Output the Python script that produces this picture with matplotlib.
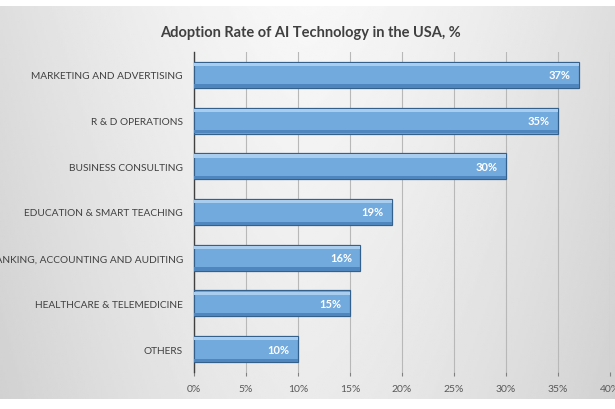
import matplotlib
matplotlib.use("Agg")
import matplotlib.pyplot as plt
import numpy as np

categories = ["MARKETING AND ADVERTISING", "R & D OPERATIONS", "BUSINESS CONSULTING",
              "EDUCATION & SMART TEACHING", "BANKING, ACCOUNTING AND AUDITING",
              "HEALTHCARE & TELEMEDICINE", "OTHERS"]
values = [37, 35, 30, 19, 16, 15, 10]
xticks = [0, 5, 10, 15, 20, 25, 30, 35, 40]
title = "Adoption Rate of AI Technology in the USA, %"

plt.rcParams['font.family'] = ['Lato', 'DejaVu Sans']

fig = plt.figure(figsize=(6.15, 4.1), dpi=100)
fig.patch.set_facecolor('white')

# background gradient panel
bg = fig.add_axes([0, 10/410, 1, 1 - 17/410], zorder=0)
xx = np.linspace(-1, 1, 300)
yy = np.linspace(0, 1, 200)
X, Y = np.meshgrid(xx, yy)
Z = 0.97 - 0.10 * np.abs(X) ** 1.5 - 0.05 * Y
bg.imshow(Z, cmap='gray', vmin=0, vmax=1, aspect='auto', extent=[0, 1, 0, 1], origin='upper')
bg.set_axis_off()

ax = fig.add_axes([194/615, 1 - 373/410, (610-194)/615, (373-53)/410], zorder=1)
ax.patch.set_alpha(0)

n = len(categories)
ypos = np.arange(n)[::-1]
h = 0.57
ax.barh(ypos, values, height=h, color='#72aade', edgecolor='#34608c', linewidth=0.9, zorder=3)
# top highlight
ax.barh(ypos + h/2 - 0.06, values, height=0.07, color='#a9cdee', linewidth=0, zorder=4)
# bottom shade
ax.barh(ypos - h/2 + 0.04, values, height=0.07, color='#4f86bd', linewidth=0, zorder=4)

for y, v in zip(ypos, values):
    ax.text(v - 0.8, y, f"{v}%", ha='right', va='center', color='white',
            fontsize=8, fontweight='bold', zorder=5)

ax.set_xlim(0, 40)
ax.set_ylim(-0.5, n - 0.5)
ax.set_xticks(xticks)
ax.set_xticklabels([f"{t}%" for t in xticks], color='#595959', fontsize=7.5)
ax.set_yticks(ypos)
ax.set_yticklabels(categories, color='#404040', fontsize=7.3)
ax.tick_params(axis='y', length=0, pad=8)
ax.tick_params(axis='x', length=3, color='#808080', pad=6)
ax.grid(axis='x', color='#b8b8b8', linewidth=0.8, zorder=1)
ax.set_axisbelow(True)
for s in ['top', 'right', 'bottom']:
    ax.spines[s].set_visible(False)
ax.spines['left'].set_color('#404040')
ax.spines['left'].set_linewidth(1.0)

fig.text(310/615, 1 - 33/410, title, ha='center', va='center', fontsize=10.5,
         fontweight='bold', color='#404040')

fig.savefig('out.png', dpi=100)
